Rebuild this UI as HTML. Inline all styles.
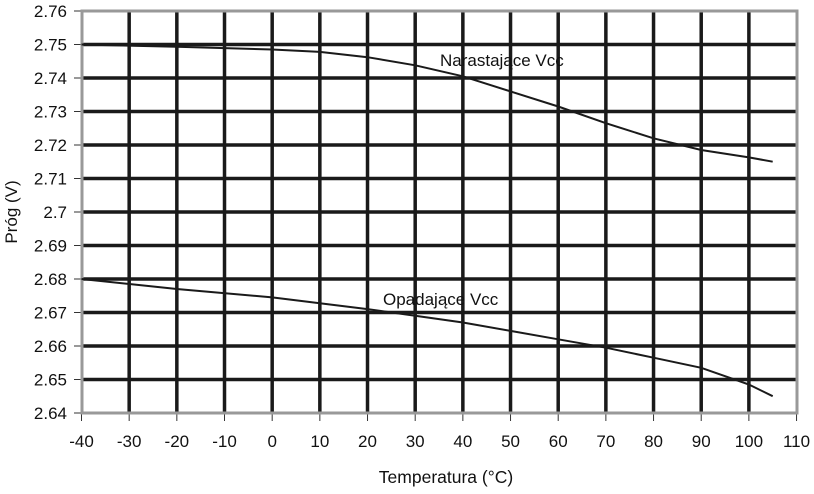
<!DOCTYPE html>
<html><head><meta charset="utf-8"><style>
body{margin:0;background:#fff;width:814px;height:489px;overflow:hidden}
svg text{font-family:"Liberation Sans",Arial,sans-serif;fill:#111}
</style></head><body>
<svg id="s" width="814" height="489" xmlns="http://www.w3.org/2000/svg">
<g id="grid"></g>
<rect x="82" y="11" width="715" height="402" fill="none" stroke="#999" stroke-width="3"/>
<path id="up" fill="none" stroke="#1a1a1a" stroke-width="2"/>
<path id="lo" fill="none" stroke="#1a1a1a" stroke-width="2"/>
<text x="440" y="66" font-size="17">Narastające Vcc</text>
<text x="383" y="305" font-size="17">Opadające Vcc</text>
<text x="446" y="483" font-size="17.5" text-anchor="middle">Temperatura (°C)</text>
<text transform="translate(17,212) rotate(-90)" font-size="17" text-anchor="middle">Próg (V)</text>
</svg>
<script>
var X=function(t){return 81.5+(t+40)*4.767},Y=function(v){return 11+(2.76-v)*3350};
var g='';
for(var i=0;i<=15;i++){var x=X(-40+i*10);
 if(i>0&&i<15)g+='<line x1="'+x+'" y1="11" x2="'+x+'" y2="413" stroke="#1a1a1a" stroke-width="3.5"/>';
 g+='<line x1="'+x+'" y1="413" x2="'+x+'" y2="421" stroke="#333" stroke-width="1"/>';
 g+='<text x="'+x+'" y="447" font-size="17" text-anchor="middle">'+(-40+i*10)+'</text>';}
for(var j=0;j<=12;j++){var y=Y(2.76-j*0.01);
 if(j>0&&j<12)g+='<line x1="82" y1="'+y+'" x2="797" y2="'+y+'" stroke="#1a1a1a" stroke-width="3.5"/>';
 g+='<line x1="74" y1="'+y+'" x2="82" y2="'+y+'" stroke="#333" stroke-width="1"/>';
 var l=(2.76-j*0.01).toFixed(2).replace(/0$/,'').replace(/\.0$/,'');
 g+='<text x="67" y="'+(y+6)+'" font-size="17" text-anchor="end">'+l+'</text>';}
document.getElementById('grid').innerHTML=g;
function p(a){var s='';a.forEach(function(q,i){s+=(i?'L':'M')+X(q[0]).toFixed(1)+' '+Y(q[1]).toFixed(1)});return s}
document.getElementById('up').setAttribute('d',p([[-40,2.75],[-20,2.7493],[0,2.7485],[10,2.7478],[20,2.7462],[30,2.7438],[40,2.7405],[50,2.736],[60,2.7315],[70,2.7265],[80,2.722],[90,2.7185],[100,2.7163],[105,2.715]]));
document.getElementById('lo').setAttribute('d',p([[-40,2.68],[-20,2.677],[0,2.6745],[20,2.671],[30,2.669],[40,2.667],[50,2.6645],[60,2.662],[70,2.6595],[80,2.6565],[90,2.6535],[100,2.6485],[105,2.645]]));
</script>
</body></html>
